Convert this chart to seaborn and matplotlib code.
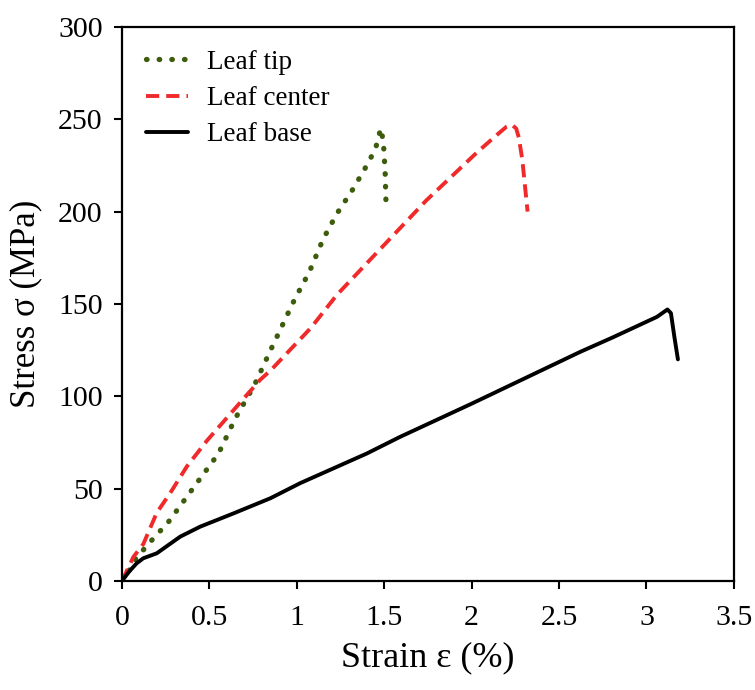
import matplotlib
matplotlib.use("Agg")
import matplotlib.pyplot as plt
import seaborn as sns
import pandas as pd

# ---- data ----
tip_strain = [0, 0.05, 0.084, 0.122, 0.16, 0.266, 0.428, 0.552, 0.648, 0.757, 0.85, 0.92, 0.99,
              1.07, 1.15, 1.23, 1.32, 1.40, 1.45, 1.48, 1.495, 1.505, 1.51]
tip_stress = [0, 7, 13, 16.8, 21, 32, 53, 69, 88, 106, 125, 139, 153,
              167, 185, 199, 212, 225, 234, 245, 238, 222, 205]

center_strain = [0, 0.065, 0.122, 0.199, 0.275, 0.371, 0.486, 0.638, 0.791, 0.85, 1.08, 1.23,
                 1.40, 1.58, 1.74, 2.03, 2.15, 2.2, 2.23, 2.255, 2.27, 2.29, 2.305, 2.32]
center_stress = [0, 13, 20, 37, 47.5, 62, 76, 92.5, 109, 114, 137, 155,
                 172, 190, 206, 232, 242, 246, 247, 245, 240, 228, 214, 200]

base_strain = [0, 0.04, 0.084, 0.122, 0.199, 0.333, 0.447, 0.638, 0.849, 1.02, 1.21, 1.40, 1.59,
               2.0, 2.62, 2.81, 3.06, 3.12, 3.14, 3.16, 3.18]
base_stress = [0, 5, 9.6, 12.3, 15, 24, 29.4, 36.6, 44.8, 53, 61, 69, 78,
               96, 124, 132, 143, 147, 145, 132, 120]

labels = ["Leaf tip", "Leaf center", "Leaf base"]
x_ticks = [0, 0.5, 1, 1.5, 2, 2.5, 3, 3.5]
x_tick_labels = ["0", "0.5", "1", "1.5", "2", "2.5", "3", "3.5"]
y_ticks = [0, 50, 100, 150, 200, 250, 300]

sns.set_style("ticks")
plt.rcParams["font.family"] = ["Liberation Serif", "DejaVu Serif"]
plt.rcParams["text.color"] = "black"
plt.rcParams["axes.labelcolor"] = "black"

fig = plt.figure(figsize=(7.55, 6.9), dpi=100)
ax = fig.add_axes([0.1616, 0.158, 0.8104, 0.803])

styles = [
    dict(color="#3d5c0c", linestyle=(0, (0.1, 2.3)), linewidth=3.8, dash_capstyle="round"),
    dict(color="#f02a2a", linestyle=(0, (3.4, 1.8)), linewidth=2.8),
    dict(color="#000000", linestyle="-", linewidth=2.8),
]
series = [(tip_strain, tip_stress), (center_strain, center_stress), (base_strain, base_stress)]
for (xs, ys), lab, st in zip(series, labels, styles):
    df = pd.DataFrame({"strain": xs, "stress": ys})
    sns.lineplot(data=df, x="strain", y="stress", ax=ax, sort=False, estimator=None,
                 label=lab, **st)

ax.set_xlim(0, 3.5)
ax.set_ylim(0, 300)
ax.set_xticks(x_ticks)
ax.set_xticklabels(x_tick_labels)
ax.set_yticks(y_ticks)
ax.tick_params(axis="both", direction="out", length=6, width=1.5, labelsize=21.5,
               colors="black")
ax.tick_params(axis="x", pad=11)
ax.tick_params(axis="y", pad=8)
for sp in ax.spines.values():
    sp.set_visible(True)
    sp.set_linewidth(1.6)
    sp.set_color("black")

ax.set_xlabel("Strain ε (%)", fontsize=26, labelpad=8, color="black")
ax.set_ylabel("Stress σ (MPa)", fontsize=25, labelpad=11, color="black")

leg = ax.legend(loc="upper left", frameon=False, fontsize=19.5, handlelength=1.55,
                handletextpad=0.7, labelspacing=0.42, borderaxespad=0.0, borderpad=0.0,
                bbox_to_anchor=(0.04, 0.959))
for t in leg.get_texts():
    t.set_color("black")

fig.savefig("out.png", dpi=100)
